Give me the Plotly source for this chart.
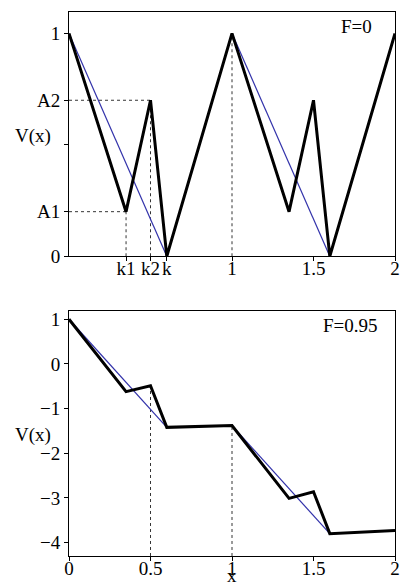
import plotly.graph_objects as go

# ---- data ----
# top panel (F=0)
x_top = [0, 0.35, 0.5, 0.6, 1.0, 1.35, 1.5, 1.6, 2.0]
v_top = [1, 0.2, 0.7, 0, 1, 0.2, 0.7, 0, 1]
blue_top_x = [0, 0.6, None, 1.0, 1.6]
blue_top_y = [1, 0, None, 1, 0]
top_xticks = [0.35, 0.5, 0.6, 1, 1.5, 2]
top_xlabels = ["k1", "k2", "k", "1", "1.5", "2"]
top_yticks = [0, 0.2, 0.5, 0.7, 1]
top_ylabels = ["0", "A1", "", "A2", "1"]

# bottom panel (F=0.95)
x_bot = [0, 0.35, 0.5, 0.6, 1.0, 1.35, 1.5, 1.6, 2.0]
v_bot = [1, -0.62, -0.49, -1.42, -1.38, -3.01, -2.86, -3.80, -3.73]
blue_bot_x = [0, 0.6, None, 1.0, 1.6]
blue_bot_y = [1, -1.42, None, -1.38, -3.80]
bot_xticks = [0, 0.5, 1, 1.5, 2]
bot_yticks = [1, 0, -1, -2, -3, -4]

FONT = "Liberation Serif"
FS = 19
BLUE = "rgb(50,50,170)"

fig = go.Figure()

# --- top guides (dotted) ---
g_x, g_y = [], []
for i in (1, 2):  # k1/A1 and k2/A2
    g_x += [0, x_top[i], None, x_top[i], x_top[i], None]
    g_y += [v_top[i], v_top[i], None, 0, v_top[i], None]
g_x += [x_top[4], x_top[4], None]
g_y += [0, v_top[4], None]
fig.add_trace(go.Scatter(x=g_x, y=g_y, mode="lines", xaxis="x", yaxis="y",
                         line=dict(color="black", width=0.8, dash="dot"), showlegend=False))
fig.add_trace(go.Scatter(x=blue_top_x, y=blue_top_y, mode="lines", xaxis="x", yaxis="y",
                         line=dict(color=BLUE, width=1.2), showlegend=False))
fig.add_trace(go.Scatter(x=x_top, y=v_top, mode="lines", xaxis="x", yaxis="y",
                         line=dict(color="black", width=3), showlegend=False))

# --- bottom guides ---
ybot_min = -4.3
b_x, b_y = [], []
for i in (2, 4):
    b_x += [x_bot[i], x_bot[i], None]
    b_y += [ybot_min, v_bot[i], None]
fig.add_trace(go.Scatter(x=b_x, y=b_y, mode="lines", xaxis="x2", yaxis="y2",
                         line=dict(color="black", width=0.8, dash="dot"), showlegend=False))
fig.add_trace(go.Scatter(x=blue_bot_x, y=blue_bot_y, mode="lines", xaxis="x2", yaxis="y2",
                         line=dict(color=BLUE, width=1.2), showlegend=False))
fig.add_trace(go.Scatter(x=x_bot, y=v_bot, mode="lines", xaxis="x2", yaxis="y2",
                         line=dict(color="black", width=3), showlegend=False))

axis_common = dict(showgrid=False, zeroline=False, showline=True, mirror=True,
                   linecolor="black", linewidth=1, ticks="outside", ticklen=4,
                   tickcolor="black", tickangle=0, automargin=False,
                   tickfont=dict(family=FONT, size=FS, color="black"))

fig.update_layout(
    width=400, height=587,
    margin=dict(l=69, r=5, t=12, b=31),
    paper_bgcolor="white", plot_bgcolor="white",
    font=dict(family=FONT, size=FS, color="black"),
    xaxis=dict(domain=[0, 1], range=[0, 2], anchor="y", ticklabelstandoff=-9,
               tickmode="array", tickvals=top_xticks, ticktext=top_xlabels, **axis_common),
    yaxis=dict(domain=[0.551, 1], range=[0, 1.096], anchor="x",
               tickmode="array", tickvals=top_yticks, ticktext=top_ylabels, **axis_common),
    xaxis2=dict(domain=[0, 1], range=[0, 2], anchor="y2", ticklabelstandoff=-9,
                tickmode="array", tickvals=bot_xticks, **axis_common),
    yaxis2=dict(domain=[0, 0.451], range=[ybot_min, 1.193], anchor="x2",
                tickmode="array", tickvals=bot_yticks, **axis_common),
    annotations=[
        dict(text="F=0", xref="x", yref="y", x=1.87, y=1.085, xanchor="right", yanchor="top",
             showarrow=False, font=dict(family=FONT, size=FS)),
        dict(text="F=0.95", xref="x2", yref="y2", x=1.91, y=1.14, xanchor="right", yanchor="top",
             showarrow=False, font=dict(family=FONT, size=FS)),
        dict(text="V(x)", xref="paper", yref="y", x=-0.05, y=0.54, xanchor="right", yanchor="middle",
             showarrow=False, font=dict(family=FONT, size=FS)),
        dict(text="V(x)", xref="paper", yref="y2", x=-0.05, y=-1.6, xanchor="right", yanchor="middle",
             showarrow=False, font=dict(family=FONT, size=FS)),
        dict(text="x", xref="x2", yref="paper", x=1.0, y=-0.036, xanchor="center", yanchor="middle",
             showarrow=False, font=dict(family=FONT, size=FS)),
    ],
)

fig.write_html("out.html", config={"displayModeBar": False},
               post_script="document.body.style.margin='0';")
